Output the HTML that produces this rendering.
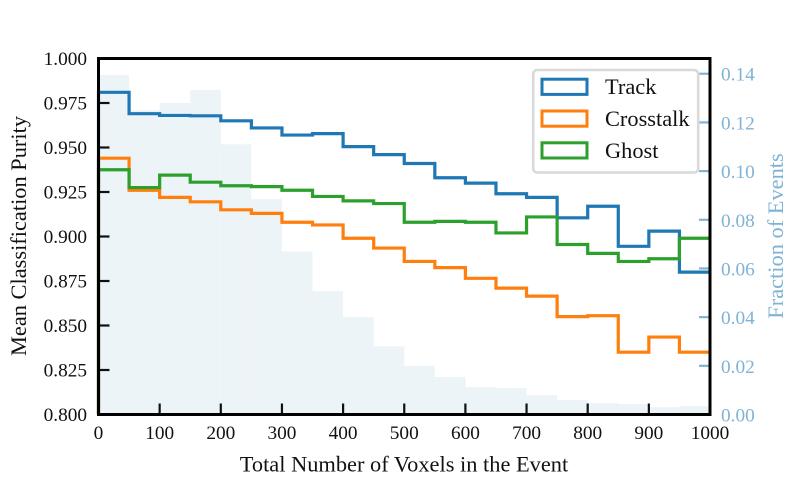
<!DOCTYPE html>
<html>
<head>
<meta charset="utf-8">
<style>
html,body{margin:0;padding:0;background:#fff;width:789px;height:488px;overflow:hidden}
svg{display:block}
text{font-family:"Liberation Serif",serif}
</style>
</head>
<body>
<svg id="chart" width="789" height="488" viewBox="0 0 789 488" xmlns="http://www.w3.org/2000/svg"></svg>
<script>
const binEdges = [0,50,100,150,200,250,300,350,400,450,500,550,600,650,700,750,800,850,900,950,1000];
const trackValues = [0.981,0.969,0.968,0.9678,0.965,0.961,0.957,0.9578,0.9505,0.946,0.941,0.933,0.93,0.924,0.922,0.9105,0.917,0.8945,0.903,0.880];
const crosstalkValues = [0.944,0.926,0.922,0.9195,0.915,0.913,0.908,0.9065,0.899,0.8935,0.886,0.8825,0.8765,0.871,0.8665,0.855,0.8555,0.835,0.8435,0.835];
const ghostValues = [0.9375,0.9275,0.9345,0.9305,0.9285,0.928,0.926,0.9225,0.92,0.9185,0.908,0.9085,0.908,0.902,0.911,0.8955,0.8905,0.886,0.8875,0.899];
const fractionValues = [0.1395,0.125,0.128,0.1333,0.111,0.0885,0.067,0.0507,0.040,0.028,0.02,0.0154,0.0113,0.0109,0.008,0.006,0.0047,0.0043,0.003,0.0035];
const xTicks = [0,100,200,300,400,500,600,700,800,900,1000];
const yTicks = ['0.800','0.825','0.850','0.875','0.900','0.925','0.950','0.975','1.000'];
const y2Ticks = ['0.00','0.02','0.04','0.06','0.08','0.10','0.12','0.14'];
const legendLabels = ['Track','Crosstalk','Ghost'];

const svg = document.getElementById('chart');
const NS = 'http://www.w3.org/2000/svg';
const L = 98.5, R = 710, T = 58.5, B = 414.5;
const BLUE = '#7fb3d5';
const COLORS = ['#1f77b4','#ff7f0e','#2ca02c'];
const sx = v => L + (v / 1000) * (R - L);
const sy = v => B - ((v - 0.8) / 0.2) * (B - T);
const sy2 = v => B - v * 2434;

function mk(tag, attrs, text) {
  const e = document.createElementNS(NS, tag);
  for (const k in attrs) e.setAttribute(k, attrs[k]);
  if (text !== undefined) e.textContent = text;
  svg.appendChild(e);
  return e;
}

fractionValues.forEach((v, i) => {
  const r = mk('rect', {x: sx(binEdges[i]), y: sy2(v), width: sx(binEdges[i + 1]) - sx(binEdges[i]), height: B - sy2(v), fill: '#ecf4f8'});
  
  
});

function stepPath(vals) {
  let d = 'M' + sx(binEdges[0]) + ' ' + B + ' L' + sx(binEdges[0]) + ' ' + sy(vals[0]);
  vals.forEach((v, i) => {
    d += ' L' + sx(binEdges[i]) + ' ' + sy(v) + ' L' + sx(binEdges[i + 1]) + ' ' + sy(v);
  });
  return d;
}

[trackValues, crosstalkValues, ghostValues].forEach((vals, i) => {
  const p = mk('path', {d: stepPath(vals), fill: 'none', stroke: COLORS[i], 'stroke-width': 3.2, 'stroke-linejoin': 'miter'});
  
  
});

xTicks.forEach(v => {
  const t = mk('line', {x1: sx(v), x2: sx(v), y1: B, y2: B - 11, stroke: '#111', 'stroke-width': 2.2});
  
  
  const l = mk('text', {x: sx(v), y: 439, 'text-anchor': 'middle', 'font-size': 19.3, fill: '#111'}, String(v));
  
  
});

yTicks.forEach(s => {
  const v = parseFloat(s);
  const t = mk('line', {x1: L, x2: L + 11, y1: sy(v), y2: sy(v), stroke: '#111', 'stroke-width': 2.2});
  
  
  const l = mk('text', {x: 87, y: sy(v) + 6.5, 'text-anchor': 'end', 'font-size': 19.3, fill: '#111'}, s);
  
  
});

y2Ticks.forEach(s => {
  const v = parseFloat(s);
  const t = mk('line', {x1: R - 11, x2: R, y1: sy2(v), y2: sy2(v), stroke: BLUE, 'stroke-width': 2.2});
  
  
  const l = mk('text', {x: 721, y: sy2(v) + 7, 'font-size': 19.3, fill: BLUE}, s);
  
  
});

const frame = mk('rect', {x: L, y: T, width: R - L, height: B - T, fill: 'none', stroke: '#000', 'stroke-width': 3});



const xTitle = mk('text', {x: 404, y: 471.5, 'text-anchor': 'middle', 'font-size': 22.4, fill: '#111'}, 'Total Number of Voxels in the Event');



const yTitle = mk('text', {transform: 'translate(26,236) rotate(-90)', 'text-anchor': 'middle', 'font-size': 22.4, fill: '#111'}, 'Mean Classification Purity');



const y2Title = mk('text', {transform: 'translate(783,236) rotate(-90)', 'text-anchor': 'middle', 'font-size': 22.4, fill: BLUE}, 'Fraction of Events');



const box = mk('rect', {x: 533.2, y: 70, width: 165, height: 102.5, rx: 4, ry: 4, fill: '#fff', 'fill-opacity': 0.85, stroke: '#d9d9d9', 'stroke-width': 2.6});



legendLabels.forEach((name, i) => {
  const y = 79.2 + i * 31.8;
  const s = mk('rect', {x: 542, y: y, width: 45, height: 15.2, fill: 'none', stroke: COLORS[i], 'stroke-width': 3});
  
  
  const t = mk('text', {x: 605, y: y + 15, 'font-size': 22.4, fill: '#111'}, name);
  
  
});
</script>
</body>
</html>
